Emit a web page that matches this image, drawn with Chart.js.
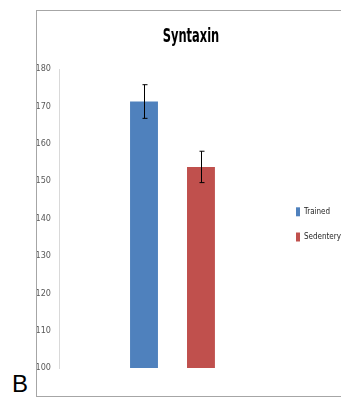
<!DOCTYPE html>
<html>
<head>
<meta charset="utf-8">
<script src="https://cdn.jsdelivr.net/npm/chart.js@4"></script>
<style>
  body { margin: 0; background: #fff; width: 341px; height: 397px; overflow: hidden; position: relative; }
  .frame { position: absolute; left: 36px; top: 10px; width: 330px; height: 385px; border: 1px solid #a6a6a6; }
  .frame canvas { position: absolute; left: 0; top: 0; }
  .title { position: absolute; left: 131px; top: 25px; width: 120px; text-align: center;
           font: bold 19px/20px "DejaVu Sans Condensed", "Liberation Sans", sans-serif; color: #000;
           transform: scaleX(0.67); transform-origin: 50% 50%; }
  .panel { position: absolute; left: 12px; top: 370px; font: 24px "Liberation Sans", Arial, sans-serif; color: #000; }
</style>
</head>
<body>
<div class="frame"><canvas id="syntaxinChart" width="315" height="385"></canvas></div>
<div class="title">Syntaxin</div>
<div class="panel">B</div>
<script>
const categories = [""];
const groups = ["Trained", "Sedentery"];
const means = [171.3, 153.8];
const errors = [4.5, 4.2];
const colors = ["#4F81BD", "#C0504D"];
const yTicks = [100, 110, 120, 130, 140, 150, 160, 170, 180];

const narrow = "'Liberation Sans Narrow', 'DejaVu Sans Condensed', 'Liberation Sans', sans-serif";

const errorBars = {
    id: "errorBars",
    afterDatasetsDraw(chart) {
        const ctx = chart.ctx;
        const y = chart.scales.y;
        ctx.save();
        ctx.strokeStyle = "#000";
        ctx.lineWidth = 1;
        chart.data.datasets.forEach((ds, i) => {
            const bar = chart.getDatasetMeta(i).data[0];
            const x = Math.round(bar.x) + 0.5;
            const top = y.getPixelForValue(ds.data[0] + ds.err);
            const bottom = y.getPixelForValue(ds.data[0] - ds.err);
            ctx.beginPath();
            ctx.moveTo(x, top); ctx.lineTo(x, bottom);
            ctx.moveTo(x - 2, top); ctx.lineTo(x + 3, top);
            ctx.moveTo(x - 2, bottom); ctx.lineTo(x + 3, bottom);
            ctx.stroke();
        });
        ctx.restore();
    }
};

new Chart(document.getElementById("syntaxinChart"), {
    type: "bar",
    data: {
        labels: categories,
        datasets: groups.map((g, i) => ({
            label: g,
            data: [means[i]],
            err: errors[i],
            backgroundColor: colors[i],
            categoryPercentage: 0.502,
            barPercentage: 0.49,
        })),
    },
    options: {
        responsive: false,
        animation: false,
        layout: { padding: { left: 0, right: 1, top: 58, bottom: 28 } },
        plugins: {
            title: { display: false },
            legend: {
                position: "right",
                fullSize: false,
                title: { display: true, text: " ", font: { size: 2, lineHeight: 1 }, padding: { top: 16, bottom: 0 } },
                labels: {
                    boxWidth: 4,
                    boxHeight: 9,
                    padding: 10,
                    color: "#262626",
                    font: { family: narrow, size: 8, lineHeight: 1.9 },
                    generateLabels(chart) {
                        return Chart.defaults.plugins.legend.labels.generateLabels(chart)
                            .map(item => ({ ...item, text: [item.text] }));
                    },
                },
            },
            tooltip: { enabled: false },
        },
        scales: {
            x: { display: false },
            y: {
                min: 100,
                max: 180,
                afterBuildTicks(axis) { axis.ticks = yTicks.map(v => ({ value: v })); },
                afterFit(axis) { axis.width = 22; },
                grid: { display: false, drawTicks: false },
                border: { display: true, color: "#d9d9d9" },
                ticks: {
                    padding: 8,
                    color: "#595959",
                    font: { family: narrow, size: 9 },
                },
            },
        },
    },
    plugins: [errorBars],
});
</script>
</body>
</html>
